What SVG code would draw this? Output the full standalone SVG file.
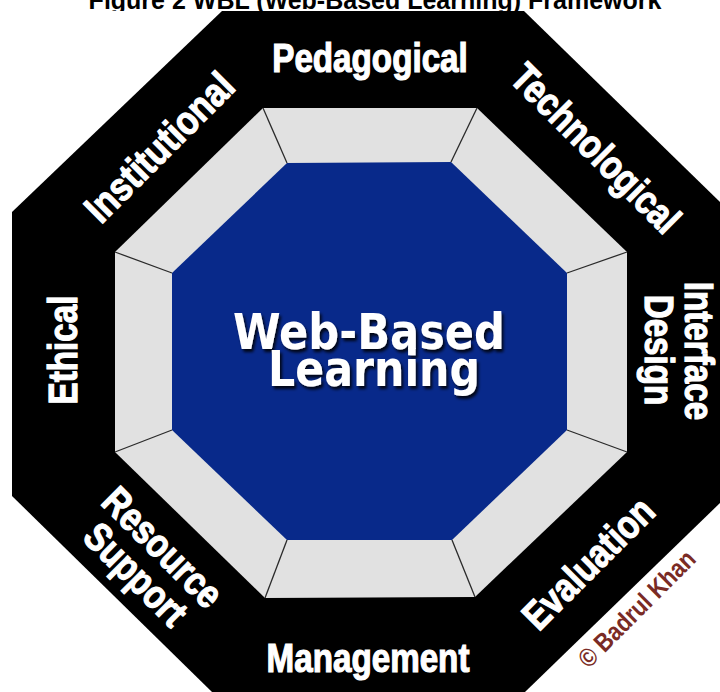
<svg xmlns="http://www.w3.org/2000/svg" width="720" height="692" viewBox="0 0 720 692">
  <defs>
    <style>
      .title { font-family: "Liberation Sans", Arial, sans-serif; font-weight: bold; font-size: 25px; fill: #000; }
      .lbl { font-family: "Liberation Sans", Arial, sans-serif; font-weight: bold; font-size: 40px; fill: #fff; stroke: #fff; stroke-width: 1.2px; text-anchor: middle; }
      .core-txt { font-family: "DejaVu Sans", Verdana, sans-serif; font-weight: bold; font-size: 50px; fill: #fff; text-anchor: middle; }
      .copy { font-family: "Liberation Sans", Arial, sans-serif; font-weight: bold; font-size: 26px; fill: #7a2b25; text-anchor: middle; }
      .frame { fill: #000; }
      .ring { fill: #e1e1e1; }
      .core { fill: #08298a; }
      .div { stroke: #2a2a2a; stroke-width: 1.3; fill: none; }
    </style>
    <filter id="shadow" x="-10%" y="-20%" width="130%" height="160%">
      <feDropShadow dx="2" dy="3" stdDeviation="1.8" flood-color="#000" flood-opacity="0.85"/>
    </filter>
  </defs>

  <rect width="720" height="692" fill="#fff"/>
  <text class="title" x="375" y="9" text-anchor="middle">Figure 2 WBL (Web-Based Learning) Framework</text>
  <!-- picture area, clips the title descenders -->
  <rect x="12" y="11" width="708" height="681" fill="#fff"/>

  <g id="frame">
    <polygon class="frame" points="222,11 524,11 720,202 720,503 525,692 212,692 12,496 12,212"/>
  </g>
  <g id="ring">
    <polygon class="ring" points="263,108 477,108 627,252 627,452 475,597 265,598 115,452 115,252"/>
  </g>
  <g id="core">
    <polygon class="core" points="287,163 451,162 567,273 567,430 452,540 287,540 172,430 172,273"/>
    <g filter="url(#shadow)">
      <text class="core-txt" x="369" y="349" textLength="272" lengthAdjust="spacingAndGlyphs">Web-Based</text>
      <text class="core-txt" x="374" y="386" textLength="212" lengthAdjust="spacingAndGlyphs">Learning</text>
    </g>
  </g>

  <g id="connectors">
    <line class="div" x1="263" y1="108" x2="287" y2="163"/>
    <line class="div" x1="477" y1="108" x2="451" y2="162"/>
    <line class="div" x1="627" y1="252" x2="567" y2="273"/>
    <line class="div" x1="627" y1="452" x2="567" y2="430"/>
    <line class="div" x1="475" y1="597" x2="452" y2="540"/>
    <line class="div" x1="265" y1="598" x2="287" y2="540"/>
    <line class="div" x1="115" y1="452" x2="172" y2="430"/>
    <line class="div" x1="115" y1="252" x2="172" y2="273"/>
  </g>

  <g id="pedagogical">
    <text class="lbl" transform="translate(370,72) scale(0.83,1)">Pedagogical</text>
  </g>
  <g id="technological">
    <text class="lbl" transform="translate(586,158) rotate(45) scale(0.83,1)">Technological</text>
  </g>
  <g id="interface-design">
    <text class="lbl" transform="translate(685,351) rotate(90) scale(0.83,1)">Interface</text>
    <text class="lbl" transform="translate(645,350) rotate(90) scale(0.83,1)">Design</text>
  </g>
  <g id="evaluation">
    <text class="lbl" transform="translate(598,573) rotate(-45) scale(0.83,1)">Evaluation</text>
  </g>
  <g id="management">
    <text class="lbl" transform="translate(368,672) scale(0.83,1)">Management</text>
  </g>
  <g id="resource-support">
    <text class="lbl" transform="translate(153,557) rotate(45) scale(0.83,1)">Resource</text>
    <text class="lbl" transform="translate(126,584) rotate(45) scale(0.83,1)">Support</text>
  </g>
  <g id="ethical">
    <text class="lbl" transform="translate(77,350) rotate(-90) scale(0.83,1)">Ethical</text>
  </g>
  <g id="institutional">
    <text class="lbl" transform="translate(169,157) rotate(-45) scale(0.85,1)">Institutional</text>
  </g>
  <g id="copyright">
    <text class="copy" transform="translate(643,615) rotate(-45) scale(0.85,1)">© Badrul Khan</text>
  </g>
</svg>
